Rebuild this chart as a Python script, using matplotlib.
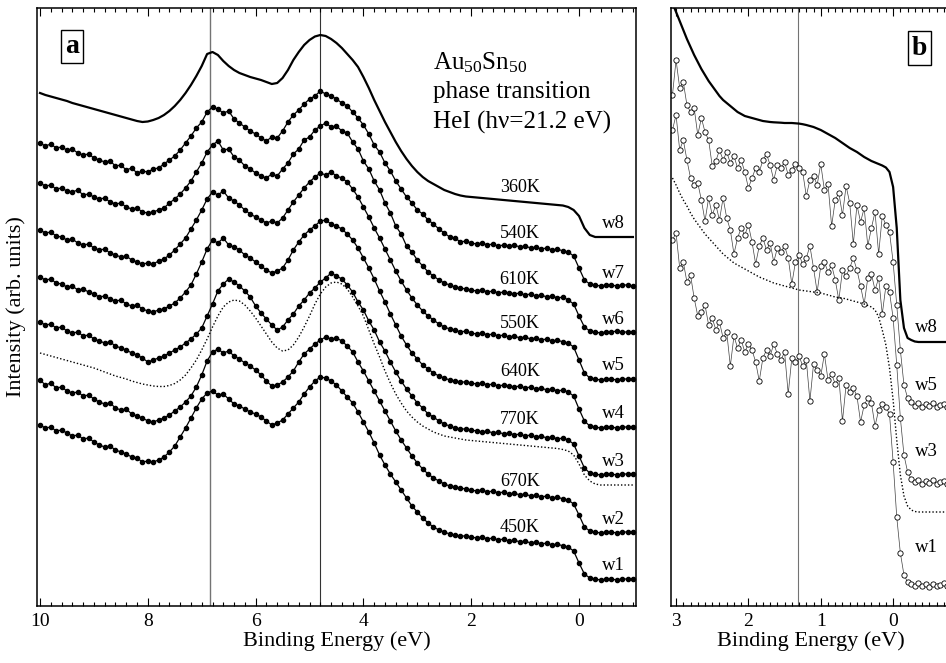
"""
Au50Sn50 phase transition: HeI valence-band spectra (panel a) and
the Fermi-edge region (panel b). Intensities in arbitrary units.
"""

import numpy as np
import matplotlib

matplotlib.use("Agg")
import matplotlib.pyplot as plt
from matplotlib.ticker import MultipleLocator

plt.rcParams["font.family"] = ["Liberation Serif", "DejaVu Serif"]
plt.rcParams["mathtext.fontset"] = "custom"
plt.rcParams["mathtext.rm"] = "Liberation Serif"
plt.rcParams["mathtext.it"] = "Liberation Serif:italic"

# ---- panel a: 10 -> -1 eV in 0.1 eV steps ----
E_A = np.linspace(10.0, -1.0, 111)

W8 = [513, 511, 509.5, 508, 506.5, 505, 503, 501.5, 500, 498.5,
      497, 495.5, 494, 492.5, 491, 489.5, 488, 486.5, 485, 484,
      484.5, 486, 488, 491, 495, 500, 506, 513, 521, 530,
      540, 552, 554, 551, 545, 540, 536, 533, 531, 529,
      527.5, 526, 524, 522, 523, 528, 536, 546, 554, 561,
      566, 569.5, 571, 570, 567, 563, 558, 552, 546, 539,
      529, 518, 506, 495, 484, 474, 464, 455, 447, 440,
      434, 429, 425, 422, 419, 416, 414, 412, 410.5, 409.5,
      409, 408.5, 408, 407.5, 407, 406.5, 406, 405.5, 405, 404.5,
      404, 403.5, 403, 402.5, 402, 401.5, 401, 400.5, 399, 396,
      390, 378, 371, 369, 369, 369, 369, 369, 369, 369,
      369]
W7 = [463, 460, 462, 458, 459, 456, 457, 453, 451, 452,
      448, 446, 444, 445, 440, 441, 436, 438, 433, 435,
      434, 437, 438, 442, 446, 450, 456, 463, 470, 478,
      484, 494, 499, 497, 493, 495, 487, 483, 479, 475,
      472, 468, 465, 469, 468, 475, 484, 491, 496, 502,
      507, 510, 515, 512, 510, 507, 503, 500, 494, 488,
      481, 472, 461, 454, 443, 435, 425, 417, 409, 403,
      396, 392, 386, 382, 377, 373, 369, 368, 364, 365,
      363, 362, 363, 361, 362, 360, 361, 360, 361, 359,
      360, 358, 359, 357, 358, 356, 357, 355, 354, 350,
      338, 326, 322, 321, 320, 321, 321, 320, 321, 321,
      320]
W6 = [423, 420, 421, 417, 418, 415, 414, 416, 411, 412,
      409, 407, 408, 404, 402, 403, 399, 397, 398, 394,
      393, 394, 396, 398, 403, 407, 412, 418, 425, 434,
      443, 454, 461, 465, 456, 457, 449, 446, 440, 437,
      433, 430, 428, 432, 430, 437, 443, 452, 457, 466,
      469, 476, 480, 483, 479, 480, 475, 473, 464, 457,
      445, 437, 425, 416, 403, 393, 380, 372, 360, 354,
      346, 340, 334, 330, 326, 323, 321, 319, 318, 317,
      316, 315, 316, 314, 315, 313, 314, 313, 312, 313,
      311, 312, 310, 311, 309, 310, 308, 309, 306, 302,
      290, 279, 275, 274, 273, 274, 274, 275, 274, 274,
      274]
W5 = [376, 373, 374, 370, 369, 366, 367, 363, 361, 362,
      358, 356, 357, 353, 351, 349, 350, 346, 344, 342,
      343, 342, 345, 347, 351, 356, 362, 368, 377, 386,
      396, 407, 414, 411, 415, 408, 405, 401, 396, 392,
      389, 386, 383, 385, 383, 388, 396, 404, 411, 418,
      424, 429, 433, 431, 434, 430, 428, 424, 417, 409,
      399, 389, 378, 368, 357, 346, 335, 325, 316, 308,
      301, 295, 290, 286, 282, 279, 277, 276, 274, 275,
      273, 272, 273, 271, 272, 270, 271, 269, 270, 268,
      269, 267, 268, 266, 267, 265, 266, 264, 263, 259,
      246, 233, 228, 227, 226, 227, 227, 226, 227, 227,
      227]
W4 = [329, 326, 327, 323, 322, 319, 320, 316, 317, 314,
      312, 309, 310, 307, 305, 306, 302, 300, 301, 297,
      295, 294, 296, 297, 300, 303, 308, 314, 321, 332,
      344, 357, 366, 363, 368, 361, 359, 356, 351, 348,
      344, 340, 336, 333, 335, 338, 346, 356, 364, 371,
      376, 380, 385, 386, 382, 380, 377, 372, 366, 358,
      348, 338, 327, 315, 304, 292, 281, 270, 261, 253,
      247, 241, 237, 233, 230, 228, 226, 225, 224, 224,
      223, 222, 223, 221, 222, 220, 221, 220, 219, 220,
      218, 219, 217, 218, 216, 217, 215, 216, 214, 210,
      197, 185, 180, 179, 178, 179, 179, 178, 179, 179,
      179]
W3 = [284, 281, 282, 278, 279, 275, 273, 274, 270, 271,
      267, 265, 263, 264, 260, 258, 256, 253, 251, 248,
      244, 246, 248, 250, 253, 256, 259, 263, 267, 272,
      278, 290, 302, 315, 322, 327, 324, 320, 315, 309,
      300, 293, 287, 281, 276, 279, 286, 292, 300, 306,
      313, 318, 324, 328, 333, 330, 327, 321, 314, 304,
      296, 285, 276, 264, 255, 244, 234, 225, 217, 210,
      203, 198, 192, 189, 185, 182, 180, 178, 177, 177,
      176, 175, 174, 175, 173, 174, 172, 173, 171, 172,
      170, 171, 169, 170, 168, 169, 167, 168, 166, 162,
      150, 138, 133, 132, 131, 132, 132, 131, 132, 132,
      132]
FIT_A = [253, 251.5, 250, 248.5, 247, 245.5, 244, 242.5, 241, 239.5,
         238, 236, 234, 232, 230, 228.5, 227, 225, 223.5, 222,
         221, 220, 219.5, 219.5, 220.5, 222.5, 226, 231, 238, 246,
         256, 267, 279, 290, 299, 304, 306, 305, 301, 295,
         288, 280, 272, 264, 258, 255, 256, 261, 269, 279,
         290, 302, 312, 319, 323, 324, 322, 317, 309, 300,
         290, 276, 262, 249, 235, 223, 212, 203, 195, 189,
         184, 180, 177, 174, 172, 170, 169, 168, 167, 166,
         165.5, 165, 164.5, 164, 163.5, 163, 162.5, 162, 161.5, 161,
         160.5, 160, 159.5, 159, 158.5, 158, 157.5, 156.5, 155, 151,
         142, 131, 125, 122, 121, 121, 121, 121, 121, 121,
         121]
W2 = [226, 221, 223, 218, 219, 215, 213, 214, 210, 211,
      207, 204, 202, 203, 198, 196, 197, 192, 190, 188,
      185, 184, 186, 188, 191, 195, 199, 204, 210, 219,
      231, 245, 254, 257, 253, 255, 250, 247, 243, 240,
      236, 231, 225, 220, 221, 224, 229, 235, 244, 252,
      257, 262, 266, 269, 267, 268, 265, 260, 254, 244,
      235, 225, 215, 205, 195, 185, 175, 166, 158, 150,
      143, 137, 132, 128, 125, 122, 120, 119, 118, 117,
      116, 115, 116, 114, 115, 113, 114, 112, 113, 111,
      112, 110, 111, 109, 110, 108, 109, 107, 106, 102,
      91, 79, 75, 74, 73, 74, 74, 73, 74, 74,
      74]
W1 = [181, 178, 179, 175, 176, 173, 170, 171, 167, 168,
      164, 161, 159, 160, 156, 154, 152, 149, 148, 144,
      145, 144, 146, 149, 154, 160, 169, 178, 188, 198,
      207, 213, 215, 211, 212, 207, 202, 200, 197, 194,
      192, 189, 185, 181, 183, 186, 192, 198, 204, 212,
      219, 225, 229, 228, 225, 221, 215, 209, 203, 194,
      184, 174, 163, 151, 141, 132, 124, 116, 108, 100,
      94, 88, 83, 79, 76, 74, 72, 71, 70, 70,
      69, 68, 69, 67, 68, 66, 67, 65, 66, 64,
      65, 63, 64, 62, 63, 61, 62, 60, 59, 55,
      43, 32, 28, 27, 26, 27, 27, 26, 27, 27,
      27]

NOISY_A = [W7, W6, W5, W4, W3, W2, W1]
ALL_A = [W8, W7, W6, W5, W4, W3, W2, W1]
TEMPS = ["360K", "540K", "610K", "550K", "640K", "770K", "670K", "450K"]
NAMES_A = ["w8", "w7", "w6", "w5", "w4", "w3", "w2", "w1"]
PEAKS_A = [6.85, 4.8]

# ---- panel b: 3.05 -> -0.8 eV in 0.05 eV steps ----
E_B = np.linspace(3.05, -0.80, 78)

B_W8 = [603, 594, 585, 576, 567, 559, 551, 544, 537, 531,
        525, 520, 515, 510, 506, 503, 500, 497, 494, 492,
        490, 489, 488, 487, 486, 485, 484.5, 484, 483.7, 483.5,
        483.3, 483, 483, 483, 482.7, 482.4, 481.8, 481, 480, 479,
        477.5, 476, 474, 472, 470, 468, 465.5, 463, 460.5, 458,
        456, 454, 451.5, 449, 447, 445, 443.5, 442, 440.5, 438.5,
        434, 419, 378, 306, 278, 268, 266, 264.5, 264, 264,
        264, 264, 264, 264, 264, 264, 264, 264]
B_W5 = [511, 546, 518, 524, 501, 494, 498, 471, 488, 474,
        466, 440, 445, 456, 446, 454, 443, 450, 438, 446,
        434, 418, 428, 438, 434, 446, 452, 441, 426, 441,
        438, 444, 431, 436, 442, 438, 434, 410, 426, 430,
        421, 442, 416, 422, 380, 406, 413, 391, 420, 403,
        362, 401, 384, 398, 360, 378, 394, 352, 390, 381,
        374, 344, 301, 256, 221, 208, 204, 200, 203, 199,
        202, 200, 203, 199, 201, 202, 199, 201]
B_W3 = [476, 491, 456, 466, 446, 428, 421, 423, 406, 385,
        408, 391, 401, 386, 408, 388, 376, 352, 368, 378,
        371, 381, 364, 342, 360, 368, 356, 363, 344, 358,
        354, 360, 348, 322, 344, 351, 342, 348, 360, 338,
        314, 340, 344, 334, 341, 326, 306, 336, 330, 338,
        348, 336, 320, 302, 328, 332, 316, 328, 292, 320,
        314, 288, 241, 188, 151, 134, 127, 124, 126, 122,
        125, 123, 126, 122, 124, 125, 122, 124]
B_FIT = [428, 421, 413, 406, 400, 393, 387, 382, 377, 372,
         368, 364, 360, 356, 352, 349, 346, 343, 341, 339,
         337, 335, 333, 331, 329, 327.5, 326, 324.5, 323, 322,
         321, 320, 319, 318, 317, 316, 315.5, 315, 314.5, 314,
         313.5, 313, 312, 311, 310, 309, 308.5, 308, 307, 306,
         305, 304, 303, 302, 300.5, 299, 296, 289, 276, 261,
         238, 206, 166, 131, 110, 100, 96, 94.5, 94, 94,
         94, 94, 94, 94, 94, 94, 94, 94]
B_W1 = [366, 373, 338, 344, 324, 331, 308, 290, 294, 301,
        281, 288, 276, 284, 268, 274, 240, 270, 258, 266,
        254, 262, 256, 244, 225, 248, 256, 250, 262, 252,
        246, 254, 212, 248, 244, 250, 240, 246, 205, 242,
        236, 230, 252, 226, 232, 222, 228, 185, 221, 214,
        218, 210, 184, 201, 208, 203, 180, 196, 202, 199,
        192, 144, 89, 53, 31, 24, 22, 20, 23, 20,
        22, 19, 22, 20, 21, 23, 20, 21]

NOISY_B = [B_W5, B_W3, B_W1]
NAMES_B = ["w8", "w5", "w3", "w1"]
LABEL_Y_B = [278, 221, 154, 58]
PEAK_B = 1.32


def style_axis(ax, major, minor):
    ax.xaxis.set_major_locator(MultipleLocator(major))
    ax.xaxis.set_minor_locator(MultipleLocator(minor))
    ax.tick_params(which="both", direction="in", top=True, bottom=True,
                   left=False, right=False, labelleft=False, width=0.8)
    ax.tick_params(which="major", length=6, labelsize=14, pad=5)
    ax.tick_params(which="minor", length=3)
    ax.set_yticks([])
    for sp in ax.spines.values():
        sp.set_linewidth(1.1)
    ax.set_xlabel("Binding Energy (eV)", fontsize=16, labelpad=1)


def main():
    fig = plt.figure(figsize=(9.46, 6.63), dpi=100)
    ax = fig.add_axes([37 / 946, 57 / 663, 599 / 946, 598 / 663])
    bx = fig.add_axes([671 / 946, 57 / 663, 280 / 946, 598 / 663])

    # ---- a: full valence band ----
    ax.plot(E_A, W8, color="black", lw=1.6)
    for ys in NOISY_A:
        ax.plot(E_A, ys, color="black", lw=0.9, marker="o", ms=3.0,
                mec="black", mfc="black")
    ax.plot(E_A, FIT_A, color="black", lw=1.0, ls=(0, (1, 1.5)))
    ax.axvline(PEAKS_A[0], color="0.45", lw=1.0, zorder=0)
    ax.axvline(PEAKS_A[1], color="0.2", lw=0.8, zorder=0)

    i_lab = int(np.argmin(np.abs(E_A - 1.1)))
    for ys, temp, name in zip(ALL_A, TEMPS, NAMES_A):
        ax.text(1.1, ys[i_lab] + 14, temp, fontsize=13, ha="center", va="center")
        ax.text(-0.63, ys[-1] + 13, name, fontsize=13.5, ha="center", va="center")

    ax.text(0.661, 0.908, r"Au$_{50}$Sn$_{50}$", transform=ax.transAxes,
            fontsize=18, va="center")
    ax.text(0.661, 0.860, "phase transition", transform=ax.transAxes,
            fontsize=18, va="center")
    ax.text(0.661, 0.809, "HeI (h\u03bd=21.2 eV)", transform=ax.transAxes,
            fontsize=18, va="center")
    ax.text(0.059, 0.936, "a", transform=ax.transAxes, fontsize=20,
            fontweight="bold", ha="center", va="center",
            bbox=dict(boxstyle="square,pad=0.15", fc="white", ec="black", lw=1))

    ax.set_xlim(10.056, -1.057)
    ax.set_ylim(0, 598)
    style_axis(ax, 2, 0.2)
    ax.set_ylabel("Intensity (arb. units)", fontsize=16)
    ax.yaxis.set_label_coords(-0.018, 0.5)

    # ---- b: Fermi edge region ----
    bx.plot(E_B, B_W8, color="black", lw=1.6)
    for ys in NOISY_B:
        bx.plot(E_B, ys, color="0.25", lw=0.5, marker="o", ms=3.8,
                mec="black", mfc="white", mew=0.6)
    bx.plot(E_B, B_FIT, color="black", lw=1.0, ls=(0, (1, 1.5)))
    bx.axvline(PEAK_B, color="0.45", lw=0.8, zorder=0)

    for y, name in zip(LABEL_Y_B, NAMES_B):
        bx.text(-0.3, y, name, fontsize=13.5, ha="left", va="center")

    bx.text(0.8875, 0.933, "b", transform=bx.transAxes, fontsize=20,
            fontweight="bold", ha="center", va="center",
            bbox=dict(boxstyle="square,pad=0.15", fc="white", ec="black", lw=1))

    bx.set_xlim(3.07, -0.80)
    bx.set_ylim(0, 598)
    style_axis(bx, 1, 0.1)

    fig.savefig("out.png", dpi=100)
    plt.close(fig)


if __name__ == "__main__":
    main()
